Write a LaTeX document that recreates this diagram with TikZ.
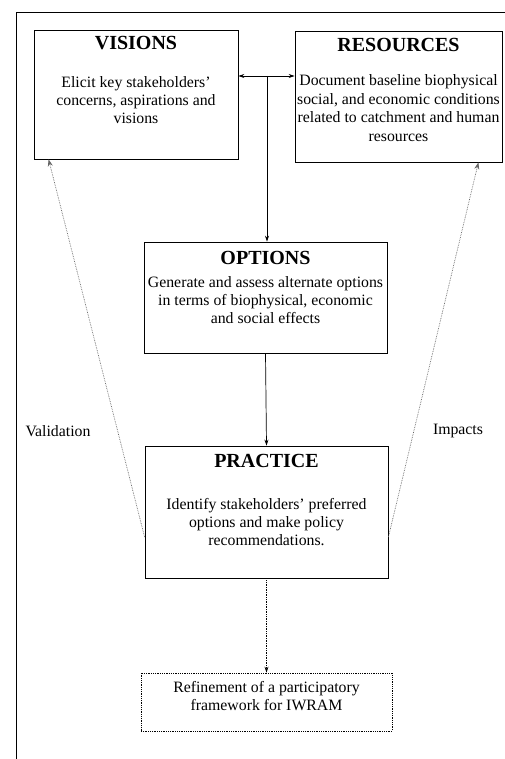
\documentclass[tikz,border=0pt]{standalone}
\usepackage{fontspec}
\setmainfont{Liberation Serif}
\usetikzlibrary{arrows.meta, positioning, calc}

\begin{document}
\begin{tikzpicture}[x=1pt,y=-1pt,
    box/.style={rectangle,draw=black,line width=0.8pt},
    title/.style={font=\fontsize{20}{23}\selectfont\bfseries},
    body/.style={font=\fontsize{15.8}{18.4}\selectfont,align=center},
    link/.style={-{Stealth[length=6pt,width=4pt]},line width=0.7pt},
    feedback/.style={-{Stealth[length=7pt,width=5pt]},densely dotted,line width=0.7pt,black!60}]
    \useasboundingbox (0,0) rectangle (505,759);

    % Rahmen
    \draw[line width=1pt] (16,759) -- (16,13) -- (505,13);

    % Visions
    \node[box,minimum width=204pt,minimum height=129pt] (visions) at (136,94.5) {};
    \node[title] (visionstitle) at (136,43) {VISIONS};
    \node[body] (visionstext) at (136,100) {Elicit key stakeholders'\\concerns, aspirations and\\visions};

    % Resources
    \node[box,minimum width=207pt,minimum height=131pt] (resources) at (398.5,96.5) {};
    \node[title] (resourcestitle) at (398.5,45) {RESOURCES};
    \node[body] (resourcestext) at (398.5,108) {Document baseline biophysical\\social, and economic conditions\\related to catchment and human\\resources};

    % Options
    \node[box,minimum width=243pt,minimum height=111pt] (options) at (265.5,297.5) {};
    \node[title] (optionstitle) at (265.5,258) {OPTIONS};
    \node[body] (optionstext) at (265.5,300) {Generate and assess alternate options\\in terms of biophysical, economic\\and social effects};

    % Practice
    \node[box,minimum width=243pt,minimum height=132pt] (practice) at (266.5,512) {};
    \node[title] (practicetitle) at (266.5,461) {PRACTICE};
    \node[body] (practicetext) at (266.5,522) {Identify stakeholders' preferred\\options and make policy\\recommendations.};

    % Refinement
    \node[box,densely dotted,minimum width=251pt,minimum height=58pt] (refinement) at (266.5,702) {};
    \node[body] (refinementtext) at (266.5,696) {Refinement of a participatory\\framework for IWRAM};

    % Verbindungen
    \coordinate (junc) at (267,76);
    \draw[{Stealth[length=6pt,width=4pt]}-{Stealth[length=6pt,width=4pt]},line width=0.7pt] (visions.east |- junc) -- (resources.west |- junc);
    \draw[link] (junc) -- (junc |- options.north);
    \draw[link] (options.south) -- (practice.north);
    \draw[link,densely dotted] (practice.south) -- (refinement.north);

    % Rueckkopplung
    \draw[feedback] ([yshift=-25pt]practice.west) -- ([xshift=15pt]visions.south west);
    \draw[feedback] ([yshift=-25pt]practice.east) -- ([xshift=-24pt]resources.south east);
    \node[body] (validation) at (58,431) {Validation};
    \node[body] (impacts) at (458,431) {Impacts};
\end{tikzpicture}
\end{document}
